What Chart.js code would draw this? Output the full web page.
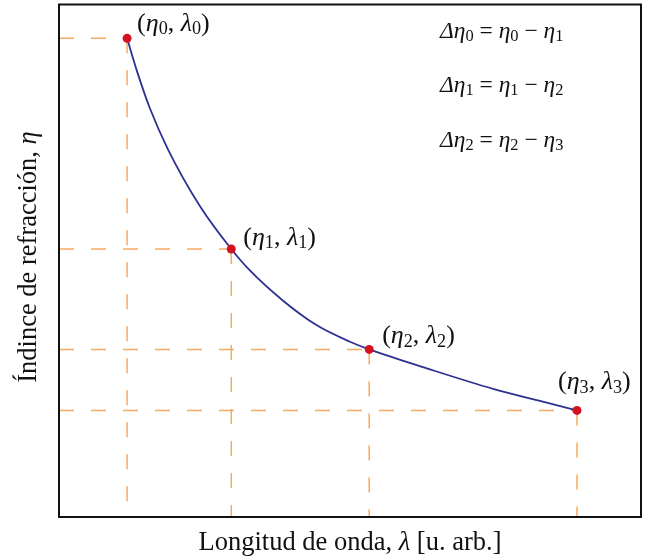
<!DOCTYPE html>
<html>
<head>
<meta charset="utf-8">
<script src="https://cdn.jsdelivr.net/npm/chart.js@4.4.1/dist/chart.umd.min.js"></script>
<style>
  html, body { margin: 0; padding: 0; background: #fff; }
  #wrap { width: 648px; height: 558px; }
</style>
</head>
<body>
<div id="wrap"><canvas id="dispersionChart"></canvas></div>
<script>
// marked points (lambda_i, eta_i), arbitrary units
const lambdaPts = [11.7, 29.6, 53.3, 89.0];
const etaPts = [93.4, 52.3, 32.7, 20.8];
const subIdx = ['0', '1', '2', '3'];

// dispersion curve samples
const curveLambda = [11.7, 13.4, 15.6, 18.7, 24.2, 29.6, 32.8, 38.5, 44.3, 50.0, 53.3, 63.2, 74.6, 83.8, 89.0];
const curveEta = [93.4, 87.0, 79.8, 71.8, 60.7, 52.3, 48.1, 42.2, 37.4, 34.2, 32.7, 29.0, 25.0, 22.3, 20.8];

const SERIF = '"Liberation Serif", "DejaVu Serif", serif';
const ORANGE = '#f8aa5c';
const BLUE = '#2e3192';
const RED = '#d4111e';

// little helper for mixed italic / roman / subscript text
function mathWidth(ctx, parts, size) {
    let w = 0;
    parts.forEach(([t, k]) => {
        const s = k === 's' ? size * 0.7 : size;
        ctx.font = (k === 'i' ? 'italic ' : '') + s + 'px ' + SERIF;
        w += ctx.measureText(t).width;
    });
    return w;
}

function drawMath(ctx, parts, x, y, size) {
    ctx.textAlign = 'left';
    ctx.textBaseline = 'alphabetic';
    parts.forEach(([t, k]) => {
        const s = k === 's' ? size * 0.7 : size;
        ctx.font = (k === 'i' ? 'italic ' : '') + s + 'px ' + SERIF;
        const dy = k === 's' ? size * 0.12 : 0;
        ctx.fillText(t, x, y + dy);
        x += ctx.measureText(t).width;
    });
}

const pointLabelParts = subIdx.map(n => [['(', 'r'], ['η', 'i'], [n, 's'], [', ', 'r'], ['λ', 'i'], [n, 's'], [')', 'r']]);
const labelOffsets = [[10, -7], [12, -4], [13, -6], [-19, -21]];

const deltaLines = [0, 1, 2].map(i => [
    ['Δη', 'i'], [String(i), 's'], [' = ', 'r'], ['η', 'i'], [String(i), 's'],
    [' − ', 'r'], ['η', 'i'], [String(i + 1), 's']
]);
const deltaBaselines = [38, 92, 147];

const textPlugin = {
    id: 'textPlugin',
    afterDraw(chart) {
        const { ctx, chartArea: a, scales: { x, y } } = chart;
        ctx.save();

        // frame
        ctx.strokeStyle = '#111';
        ctx.lineWidth = 2;
        ctx.strokeRect(a.left, a.top, a.right - a.left, a.bottom - a.top);

        ctx.fillStyle = '#111';
        // point labels
        lambdaPts.forEach((l, i) => {
            const px = x.getPixelForValue(l);
            const py = y.getPixelForValue(etaPts[i]);
            drawMath(ctx, pointLabelParts[i], px + labelOffsets[i][0], py + labelOffsets[i][1], 26);
        });

        // difference formulas
        deltaLines.forEach((parts, i) => drawMath(ctx, parts, 440, deltaBaselines[i], 23.5));

        // x axis title
        const xt = [['Longitud de onda, ', 'r'], ['λ', 'i'], [' [u. arb.]', 'r']];
        const xw = mathWidth(ctx, xt, 26.5);
        drawMath(ctx, xt, (a.left + a.right) / 2 - xw / 2, 550, 26.5);

        // y axis title
        const yt = [['Índince de refracción, ', 'r'], ['η', 'i']];
        const yw = mathWidth(ctx, yt, 26.5);
        ctx.translate(36, 257);
        ctx.rotate(-Math.PI / 2);
        drawMath(ctx, yt, -yw / 2, 0, 26.5);

        ctx.restore();
    }
};

const guideStyle = {
    borderColor: ORANGE,
    borderWidth: 1.5,
    borderDash: [15, 17],
    pointRadius: 0,
    showLine: true,
    tension: 0
};

const guides = [];
lambdaPts.forEach((l, i) => {
    guides.push(Object.assign({ data: [{ x: 0, y: etaPts[i] }, { x: l, y: etaPts[i] }] }, guideStyle));
    guides.push(Object.assign({ data: [{ x: l, y: etaPts[i] }, { x: l, y: 0 }] }, guideStyle));
});

new Chart(document.getElementById('dispersionChart'), {
    type: 'scatter',
    data: {
        datasets: [
            {
                data: lambdaPts.map((l, i) => ({ x: l, y: etaPts[i] })),
                pointRadius: 4.5,
                pointBackgroundColor: RED,
                pointBorderWidth: 0,
                showLine: false
            },
            {
                data: curveLambda.map((l, i) => ({ x: l, y: curveEta[i] })),
                borderColor: BLUE,
                borderWidth: 1.8,
                pointRadius: 0,
                showLine: true,
                cubicInterpolationMode: 'monotone'
            },
            ...guides
        ]
    },
    options: {
        responsive: true,
        maintainAspectRatio: false,
        animation: false,
        layout: { padding: { left: 59, right: 7, top: 3, bottom: 41 } },
        plugins: { legend: { display: false }, tooltip: { enabled: false } },
        scales: {
            x: { type: 'linear', min: 0, max: 100, display: false },
            y: { type: 'linear', min: 0, max: 100, display: false }
        }
    },
    plugins: [textPlugin]
});
</script>
</body>
</html>
